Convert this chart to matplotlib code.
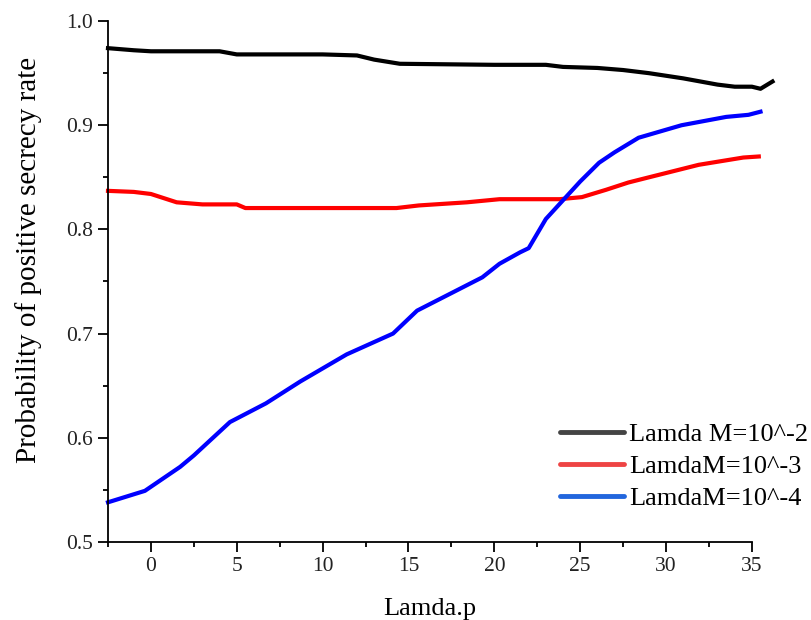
import matplotlib.pyplot as plt
from matplotlib.lines import Line2D
from matplotlib.ticker import MultipleLocator

plt.rcParams['font.family'] = ['Liberation Serif', 'DejaVu Serif']

# values
x_black = [-2.5, -1, 0, 4, 5, 10, 12, 13, 14.5, 20, 23, 24, 26, 27.5, 29, 31, 33, 34, 35, 35.5, 36.2]
y_black = [0.974, 0.972, 0.971, 0.971, 0.968, 0.968, 0.967, 0.963, 0.959, 0.958, 0.958, 0.956,
           0.955, 0.953, 0.950, 0.945, 0.939, 0.937, 0.937, 0.935, 0.942]

x_red = [-2.5, -1, 0, 1.5, 3, 5, 5.5, 14.3, 15.6, 18.4, 20.3, 23.8, 25.1, 26.5, 27.8, 29, 31.9, 34.5, 35.4]
y_red = [0.837, 0.836, 0.834, 0.826, 0.824, 0.824, 0.8205, 0.8205, 0.823, 0.826, 0.829, 0.829,
         0.831, 0.838, 0.845, 0.850, 0.862, 0.869, 0.870]

x_blue = [-2.5, -0.35, 1.7, 2.5, 4.6, 6.7, 8.7, 11.4, 14.1, 15.5, 19.3, 20.3, 21.5, 22, 23, 24,
          25, 26.1, 27, 28.4, 30.9, 33.5, 34.8, 35.5]
y_blue = [0.538, 0.549, 0.572, 0.583, 0.615, 0.633, 0.654, 0.680, 0.700, 0.722, 0.754, 0.767,
          0.778, 0.782, 0.810, 0.828, 0.846, 0.864, 0.874, 0.888, 0.900, 0.908, 0.910, 0.913]

labels = ['Lamda M=10^-2', 'LamdaM=10^-3', 'LamdaM=10^-4']
line_colors = ['black', '#ff0000', '#0000ff']
legend_colors = ['#444444', '#ee4444', '#2266dd']

fig = plt.figure(figsize=(8.12, 6.2), dpi=100)
ax = fig.add_axes([0.133, 0.126, 0.793, 0.840])

for xs, ys, c in zip([x_black, x_red, x_blue], [y_black, y_red, y_blue], line_colors):
    ax.plot(xs, ys, color=c, lw=3, clip_on=False)

ax.set_xlim(-2.5, 35)
ax.set_ylim(0.5, 1.0)
ax.xaxis.set_major_locator(MultipleLocator(5))
ax.xaxis.set_minor_locator(MultipleLocator(2.5))
ax.yaxis.set_major_locator(MultipleLocator(0.1))
ax.yaxis.set_minor_locator(MultipleLocator(0.05))
ax.yaxis.set_major_formatter(plt.FormatStrFormatter('%.1f'))

ax.spines['top'].set_visible(False)
ax.spines['right'].set_visible(False)
for s in ['left', 'bottom']:
    ax.spines[s].set_linewidth(1.3)
ax.tick_params(which='major', direction='out', length=7, width=1.3, labelsize=15.5, pad=4,
               labelcolor='#222222')
ax.tick_params(which='minor', direction='out', length=3.6, width=1.3)

ax.set_xlabel('Lamda.p', fontsize=19)
ax.xaxis.set_label_coords(0.5, -0.107)
ax.set_ylabel('Probability of positive secrecy rate', fontsize=21)
ax.yaxis.set_label_coords(-0.102, 0.541)

handles = [Line2D([], [], color=c, lw=3.5, solid_capstyle='round') for c in legend_colors]
ax.legend(handles, labels, loc='lower right', bbox_to_anchor=(1.124, 0.016), frameon=False,
          fontsize=19, handlelength=2.4, handletextpad=0.2, labelspacing=0.31)

fig.savefig('out.png', dpi=100)
